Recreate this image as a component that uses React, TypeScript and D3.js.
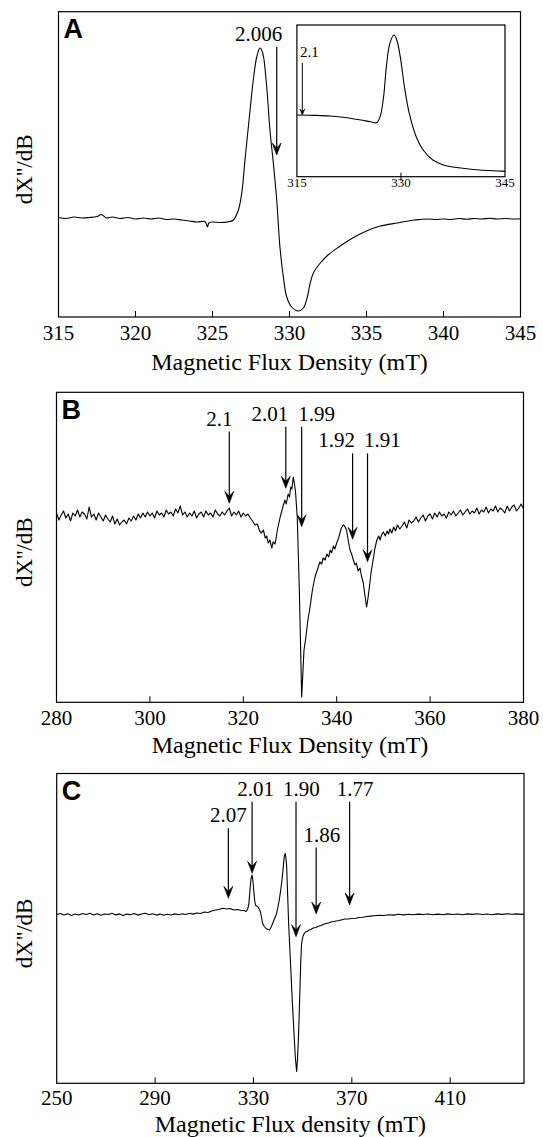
import React from 'react';
import * as d3 from 'd3';

// ---------- data (field in mT, signal in relative units) ----------
const SPECTRUM_A: [number, number][] = [
  [315, 0.005], [315.5, -0.005], [316, 0.01], [316.5, 0.0], [317, 0.005], [317.5, 0.015], [317.8, 0.035], [318.1, 0.0],
  [318.5, 0.01], [319, -0.005], [319.5, 0.005], [320, -0.01], [320.5, 0.0], [321, -0.01], [321.5, 0.0], [322, -0.015],
  [322.5, -0.01], [323, -0.02], [323.5, -0.03], [324, -0.04], [324.5, -0.035], [324.6, -0.06], [324.68, -0.09], [324.76, -0.05],
  [325, -0.04], [325.5, -0.045], [326, -0.04], [326.35, -0.02], [326.68, 0.08], [326.9, 0.25], [327.11, 0.58], [327.44, 1.08],
  [327.65, 1.38], [327.87, 1.61], [328.08, 1.7], [328.26, 1.65], [328.52, 1.31], [328.73, 0.88], [328.95, 0.55], [329.17, 0.18],
  [329.38, -0.29], [329.6, -0.59], [329.82, -0.79], [330.14, -0.89], [330.57, -0.93], [330.9, -0.9], [331.16, -0.79], [331.33, -0.66],
  [331.55, -0.55], [332.0, -0.45], [332.5, -0.37], [333.2, -0.29], [334.1, -0.2], [335.0, -0.13], [335.9, -0.08], [337.0, -0.05],
  [337.5, -0.035], [338.1, -0.02], [338.5, -0.015], [339, -0.01], [339.5, -0.015], [340, -0.01], [340.5, -0.015], [341, -0.005],
  [341.5, -0.012], [342, -0.005], [342.5, -0.01], [343, -0.003], [343.5, -0.01], [344, -0.005], [344.5, -0.01], [345, -0.008],
];

const SPECTRUM_INSET: [number, number][] = [
  [315, 0], [317.5, -0.004], [319.8, -0.0125], [322.2, -0.034], [324.2, -0.0625], [325.6, -0.084], [326.5, -0.096],
  [327.0, -0.021], [327.5, 0.229], [327.9, 0.604], [328.4, 0.896], [329.0, 1.0], [329.4, 0.9375], [329.9, 0.729],
  [330.5, 0.354], [331.2, 0.021], [332.2, -0.271], [333.2, -0.4375], [334.6, -0.5625], [336.5, -0.634], [338.9, -0.666],
  [341.3, -0.6875], [344.2, -0.7], [345, -0.704],
];

const SPECTRUM_B: [number, number][] = [
  [280, 0.03], [280.5, -0.04], [281, 0.01], [281.5, 0.05], [282, -0.02], [282.5, 0.02], [283, -0.05], [283.5, 0.03],
  [284, 0.0], [284.5, 0.06], [285, -0.01], [285.5, 0.04], [286, 0.02], [286.5, -0.03], [287, 0.09], [287.5, -0.01],
  [288, 0.02], [288.5, -0.04], [289, 0.03], [289.5, -0.01], [290, -0.05], [290.5, 0.01], [291, -0.03], [291.5, -0.06],
  [292, 0.0], [292.5, -0.08], [293, -0.03], [293.5, -0.09], [294, -0.06], [294.5, -0.04], [295, -0.08], [295.5, -0.02],
  [296, -0.05], [296.5, 0.0], [297, -0.04], [297.5, 0.02], [298, -0.02], [298.5, 0.03], [299, -0.01], [299.5, 0.04],
  [300, 0.0], [300.5, 0.03], [301, -0.02], [301.5, 0.05], [302, 0.01], [302.5, 0.03], [303, -0.01], [303.5, 0.06],
  [304, 0.02], [304.5, 0.04], [305, 0.0], [305.5, 0.07], [306, 0.03], [306.5, 0.1], [307, 0.01], [307.5, 0.04],
  [308, -0.01], [308.5, 0.03], [309, 0.0], [309.5, 0.05], [310, -0.02], [310.5, 0.02], [311, 0.04], [311.5, -0.01],
  [312, 0.05], [312.5, 0.01], [313, 0.03], [313.5, -0.01], [314, 0.06], [314.5, 0.02], [315, 0.0], [315.5, 0.04],
  [316, 0.01], [316.5, 0.05], [317, 0.08], [317.5, 0.0], [318, 0.04], [318.5, 0.01], [319, 0.05], [319.5, -0.01],
  [320, 0.03], [320.5, 0.0], [321, 0.02], [321.5, -0.02], [322, -0.05], [322.5, -0.09], [323, -0.08], [323.5, -0.15],
  [323.9, -0.17], [324.3, -0.14], [324.7, -0.22], [325.0, -0.2], [325.35, -0.27], [325.7, -0.24], [326.1, -0.32], [326.4, -0.26],
  [326.8, -0.28], [327.3, -0.14], [327.9, -0.01], [328.4, 0.08], [328.9, 0.16], [329.2, 0.12], [329.6, 0.22], [329.9, 0.19],
  [330.15, 0.29], [330.4, 0.27], [330.7, 0.39], [331.0, 0.31], [331.2, 0.23], [331.55, -0.01], [332.0, -0.74], [332.5, -1.81],
  [333.0, -1.34], [333.4, -1.21], [333.8, -1.05], [334.3, -0.91], [334.8, -0.74], [335.35, -0.61], [335.7, -0.56], [336.06, -0.51],
  [336.4, -0.46], [336.8, -0.48], [337.1, -0.42], [337.5, -0.44], [337.9, -0.38], [338.3, -0.41], [338.6, -0.34], [338.9, -0.37],
  [339.3, -0.3], [339.6, -0.33], [340.0, -0.27], [340.4, -0.22], [340.7, -0.17], [341.0, -0.12], [341.4, -0.09], [341.7, -0.1],
  [342.1, -0.14], [342.5, -0.25], [342.85, -0.34], [343.2, -0.38], [343.5, -0.43], [343.9, -0.49], [344.2, -0.47], [344.6, -0.55],
  [345.0, -0.52], [345.3, -0.6], [345.7, -0.67], [346.0, -0.78], [346.4, -0.91], [346.7, -0.82], [347.1, -0.67], [347.4, -0.55],
  [347.8, -0.44], [348.2, -0.32], [348.6, -0.24], [349.0, -0.2], [349.3, -0.24], [349.6, -0.19], [350.0, -0.16], [350.4, -0.2],
  [350.8, -0.15], [351.1, -0.18], [351.4, -0.13], [351.8, -0.17], [352.2, -0.11], [352.6, -0.15], [353.0, -0.09], [353.5, -0.13],
  [354, -0.1], [354.5, -0.06], [355, -0.12], [355.5, -0.04], [356, -0.07], [356.5, -0.05], [357, -0.01], [357.5, -0.06],
  [358, -0.02], [358.5, 0.01], [359, -0.05], [359.5, 0.0], [360, 0.02], [360.5, -0.03], [361, 0.03], [361.5, -0.01],
  [362, 0.04], [362.5, 0.0], [363, 0.02], [363.5, -0.02], [364, 0.04], [364.5, 0.01], [365, 0.05], [365.5, 0.0],
  [366, 0.03], [366.5, 0.06], [367, 0.01], [367.5, 0.04], [368, 0.07], [368.5, 0.02], [369, 0.05], [369.5, 0.03],
  [370, 0.08], [370.5, 0.02], [371, 0.06], [371.5, 0.04], [372, 0.09], [372.5, 0.03], [373, 0.07], [373.5, 0.05],
  [374, 0.1], [374.5, 0.04], [375, 0.08], [375.5, 0.06], [376, 0.03], [376.5, 0.1], [377, 0.05], [377.5, 0.09],
  [378, 0.11], [378.5, 0.05], [379, 0.08], [379.5, 0.12], [380, 0.07],
];

const SPECTRUM_C: [number, number][] = [
  [250, 0.0], [251.5, 0.01], [253, -0.005], [254.5, 0.008], [256, -0.01], [257.5, 0.005], [259, -0.005], [260.5, 0.01],
  [262, 0.0], [263.5, 0.012], [265, -0.005], [266.5, 0.008], [268, -0.008], [269.5, 0.005], [271, 0.0], [272.5, 0.012],
  [274, -0.004], [275.5, 0.006], [277, -0.01], [278.5, 0.004], [280, -0.002], [281.5, 0.01], [283, -0.006], [284.5, 0.005],
  [286, 0.012], [287.5, -0.002], [289, 0.008], [290.5, -0.006], [292, 0.004], [293.5, -0.008], [295, 0.003], [296.5, -0.005],
  [298, 0.006], [299.5, -0.003], [301, 0.008], [302.5, 0.0], [304, 0.012], [305.5, 0.004], [307, 0.015], [308.5, 0.01],
  [310, 0.025], [311.5, 0.02], [313, 0.035], [314.5, 0.045], [316, 0.05], [317.5, 0.062], [319, 0.055], [320.5, 0.06],
  [322, 0.045], [323.5, 0.05], [325, 0.04], [326.2, 0.04], [327, 0.03], [327.6, 0.05], [328.1, 0.1], [328.6, 0.25],
  [329.0, 0.36], [329.45, 0.395], [329.8, 0.33], [330.1, 0.245], [330.5, 0.14], [330.8, 0.095], [331.2, 0.085], [331.7, 0.08],
  [332.2, 0.06], [332.8, 0.03], [333.3, -0.03], [333.75, -0.09], [334.4, -0.12], [335.1, -0.14], [335.8, -0.15], [336.5, -0.155],
  [337.1, -0.13], [337.8, -0.09], [338.6, -0.04], [339.4, 0.01], [340.0, 0.08], [340.5, 0.145], [341.1, 0.25], [341.6, 0.345],
  [342.1, 0.47], [342.5, 0.58], [342.95, 0.61], [343.2, 0.56], [343.5, 0.48], [343.9, 0.2], [344.3, -0.09], [345.0, -0.45],
  [345.7, -0.82], [346.4, -1.15], [347.0, -1.42], [347.55, -1.57], [347.9, -1.45], [348.2, -1.29], [348.6, -1.0], [348.9, -0.755],
  [349.2, -0.5], [349.55, -0.29], [350.1, -0.22], [350.65, -0.19], [351.2, -0.175], [351.8, -0.17], [352.3, -0.16], [352.7, -0.155],
  [353.5, -0.148], [354.3, -0.135], [355.4, -0.13], [356.4, -0.118], [357.4, -0.11], [358.4, -0.1], [359.4, -0.09], [360.5, -0.085],
  [361.5, -0.075], [362.6, -0.07], [363.7, -0.065], [364.8, -0.06], [366, -0.052], [367.2, -0.045], [368.5, -0.045], [370, -0.04],
  [371.6, -0.038], [373, -0.03], [374.5, -0.028], [376, -0.02], [377.5, -0.016], [379, -0.012], [381, -0.008], [383, -0.01],
  [385, -0.002], [387, -0.006], [389, 0.003], [391, -0.004], [393, 0.002], [395, -0.003], [397, 0.004], [399, 0.0],
  [401, 0.005], [403, -0.002], [405, 0.004], [407, -0.003], [409, 0.006], [411, 0.0], [413, 0.005], [415, -0.002],
  [417, 0.006], [419, 0.001], [421, 0.007], [423, 0.0], [425, 0.005], [427, -0.002], [429, 0.006], [431, 0.001],
  [433, 0.007], [435, 0.002], [437, 0.006], [439, 0.001], [440, 0.004],
];

// tick values
const TICKS_A = [315, 320, 325, 330, 335, 340, 345];
const TICKS_INSET = [315, 330, 345];
const TICKS_B = [280, 300, 320, 340, 360, 380];
const TICKS_C = [250, 290, 330, 370, 410];

// g-value markers: field of arrow, field of label centre, arrow top & tip (signal units)
type Marker = { g: string; at: number; labelAt: number; top: number; tip: number };
const MARKERS_A: Marker[] = [{ g: '2.006', at: 329.17, labelAt: 328.0, top: 1.71, tip: 0.63 }];
const MARKERS_INSET: Marker[] = [{ g: '2.1', at: 315.78, labelAt: 316.8, top: 0.65, tip: 0.0 }];
const MARKERS_B: Marker[] = [
  { g: '2.1', at: 317.0, labelAt: 314.9, top: 0.844, tip: 0.127 },
  { g: '2.01', at: 329.1, labelAt: 325.7, top: 0.893, tip: 0.277 },
  { g: '1.99', at: 332.5, labelAt: 335.7, top: 0.893, tip: -0.107 },
  { g: '1.92', at: 343.4, labelAt: 340.0, top: 0.627, tip: -0.233 },
  { g: '1.91', at: 346.6, labelAt: 349.8, top: 0.627, tip: -0.457 },
];
const MARKERS_C: Marker[] = [
  { g: '2.07', at: 319.8, labelAt: 319.8, top: 0.862, tip: 0.162 },
  { g: '2.01', at: 329.45, labelAt: 330.9, top: 1.128, tip: 0.412 },
  { g: '1.90', at: 347.3, labelAt: 349.5, top: 1.128, tip: -0.222 },
  { g: '1.86', at: 355.5, labelAt: 357.8, top: 0.67, tip: 0.005 },
  { g: '1.77', at: 369.1, labelAt: 371.3, top: 1.128, tip: 0.095 },
];

const SERIF = '"Liberation Serif", "Times New Roman", Times, serif';
const SANS = '"Liberation Sans", Arial, Helvetica, sans-serif';

type Box = { left: number; right: number; top: number; bottom: number };

function Arrow({ x, y1, y2, hw, len, notch, sw }: { x: number; y1: number; y2: number; hw: number; len: number; notch: number; sw: number }) {
  const head = `M${x},${y2} L${x - hw},${y2 - len} L${x},${y2 - notch} L${x + hw},${y2 - len} Z`;
  return (
    <g>
      <line x1={x} x2={x} y1={y1} y2={y2 - notch} stroke="#000" strokeWidth={sw} />
      <path d={head} fill="#000" stroke="#000" strokeWidth={0.6} strokeLinejoin="miter" />
    </g>
  );
}

function Spectrum({
  box, xDomain, yDomain, data, ticks, markers, curve, tickSize, tickFont, labelFont, showEdgeTicks, tickLabelDy, arrowHead, tickStyle,
}: {
  box: Box; xDomain: [number, number]; yDomain: [number, number]; data: [number, number][]; ticks: number[];
  markers: Marker[]; curve: d3.CurveFactory; tickSize: number; tickFont: number; labelFont: number; showEdgeTicks?: boolean;
  tickLabelDy: number; arrowHead: { hw: number; len: number; notch: number; sw: number }; tickStyle: 'in' | 'cross';
}) {
  const x = d3.scaleLinear().domain(xDomain).range([box.left, box.right]);
  const y = d3.scaleLinear().domain(yDomain).range([box.bottom, box.top]);
  const line = d3.line<[number, number]>().x((d) => x(d[0])).y((d) => y(d[1])).curve(curve);
  return (
    <g>
      <rect x={box.left} y={box.top} width={box.right - box.left} height={box.bottom - box.top} fill="#fff" stroke="#000" strokeWidth={1.2} />
      {ticks.map((t) => {
        const tx = x(t);
        const edge = Math.abs(t - xDomain[0]) < 1e-9 || Math.abs(t - xDomain[1]) < 1e-9;
        return (
          <g key={t}>
            {(!edge || showEdgeTicks) && (
              <line x1={tx} x2={tx} y1={tickStyle === 'in' ? box.bottom - tickSize : box.bottom - tickSize / 2}
                y2={tickStyle === 'in' ? box.bottom : box.bottom + tickSize / 2} stroke="#000" strokeWidth={1} />
            )}
            <text x={tx} y={box.bottom + tickLabelDy} textAnchor="middle" fontFamily={SERIF} fontSize={tickFont} fill="#000">{t}</text>
          </g>
        );
      })}
      <path d={line(data) || ''} fill="none" stroke="#000" strokeWidth={1.1} strokeLinejoin="round" />
      {markers.map((m) => (
        <g key={m.g + m.at}>
          <Arrow x={x(m.at)} y1={y(m.top)} y2={y(m.tip)} {...arrowHead} />
          <text x={x(m.labelAt)} y={y(m.top) - 6} textAnchor="middle" fontFamily={SERIF} fontSize={labelFont} fill="#000">{m.g}</text>
        </g>
      ))}
    </g>
  );
}

function PanelText({ box, letter, title, titleDy }: { box: Box; letter: string; title: string; titleDy: number }) {
  const cy = (box.top + box.bottom) / 2 + 5;
  return (
    <g>
      <text x={box.left + 5} y={box.top + 26.5} fontFamily={SANS} fontWeight="bold" fontSize={27} fill="#000">{letter}</text>
      <text transform={`translate(32,${cy}) rotate(-90)`} textAnchor="middle" fontFamily={SERIF} fontSize={23} fill="#000">dΧ''/dB</text>
      <text x={(box.left + box.right) / 2} y={box.bottom + titleDy} textAnchor="middle" fontFamily={SERIF} fontSize={24} fill="#000">{title}</text>
    </g>
  );
}

export default function App() {
  const boxA: Box = { left: 58.5, right: 520.5, top: 11.7, bottom: 317 };
  const boxInset: Box = { left: 296.9, right: 505, top: 25, bottom: 176.7 };
  const boxB: Box = { left: 56.5, right: 523.5, top: 392.3, bottom: 702.3 };
  const boxC: Box = { left: 56.7, right: 524, top: 773.5, bottom: 1083.3 };
  const bigHead = { hw: 4.5, len: 12, notch: 7, sw: 1.2 };
  const smallHead = { hw: 2.5, len: 6, notch: 3.5, sw: 1 };
  return (
    <svg width={543} height={1137} style={{ position: 'absolute', left: 0, top: 0, background: '#fff' }}>
      <rect x={0} y={0} width={543} height={1137} fill="#fff" />
      <Spectrum box={boxA} xDomain={[315, 345]} yDomain={[-0.99, 2.063]} data={SPECTRUM_A} ticks={TICKS_A}
        markers={MARKERS_A} curve={d3.curveCatmullRom} tickSize={6} tickFont={21} labelFont={21} tickLabelDy={23}
        arrowHead={bigHead} tickStyle="in" />
      <Spectrum box={boxInset} xDomain={[315, 345]} yDomain={[-0.771, 1.125]} data={SPECTRUM_INSET} ticks={TICKS_INSET}
        markers={MARKERS_INSET} curve={d3.curveCatmullRom} tickSize={8} tickFont={13} labelFont={15} tickLabelDy={10}
        arrowHead={smallHead} tickStyle="cross" />
      <PanelText box={boxA} letter="A" title="Magnetic Flux Density (mT)" titleDy={53} />

      <Spectrum box={boxB} xDomain={[280, 380]} yDomain={[-1.863, 1.237]} data={SPECTRUM_B} ticks={TICKS_B}
        markers={MARKERS_B} curve={d3.curveLinear} tickSize={6} tickFont={21} labelFont={21} tickLabelDy={22.5}
        arrowHead={bigHead} tickStyle="in" />
      <PanelText box={boxB} letter="B" title="Magnetic Flux Density (mT)" titleDy={51} />

      <Spectrum box={boxC} xDomain={[250, 440]} yDomain={[-1.688, 1.41]} data={SPECTRUM_C} ticks={TICKS_C}
        markers={MARKERS_C} curve={d3.curveLinear} tickSize={6} tickFont={21} labelFont={21} tickLabelDy={21.5}
        arrowHead={bigHead} tickStyle="in" />
      <PanelText box={boxC} letter="C" title="Magnetic Flux density (mT)" titleDy={48.5} />
    </svg>
  );
}
